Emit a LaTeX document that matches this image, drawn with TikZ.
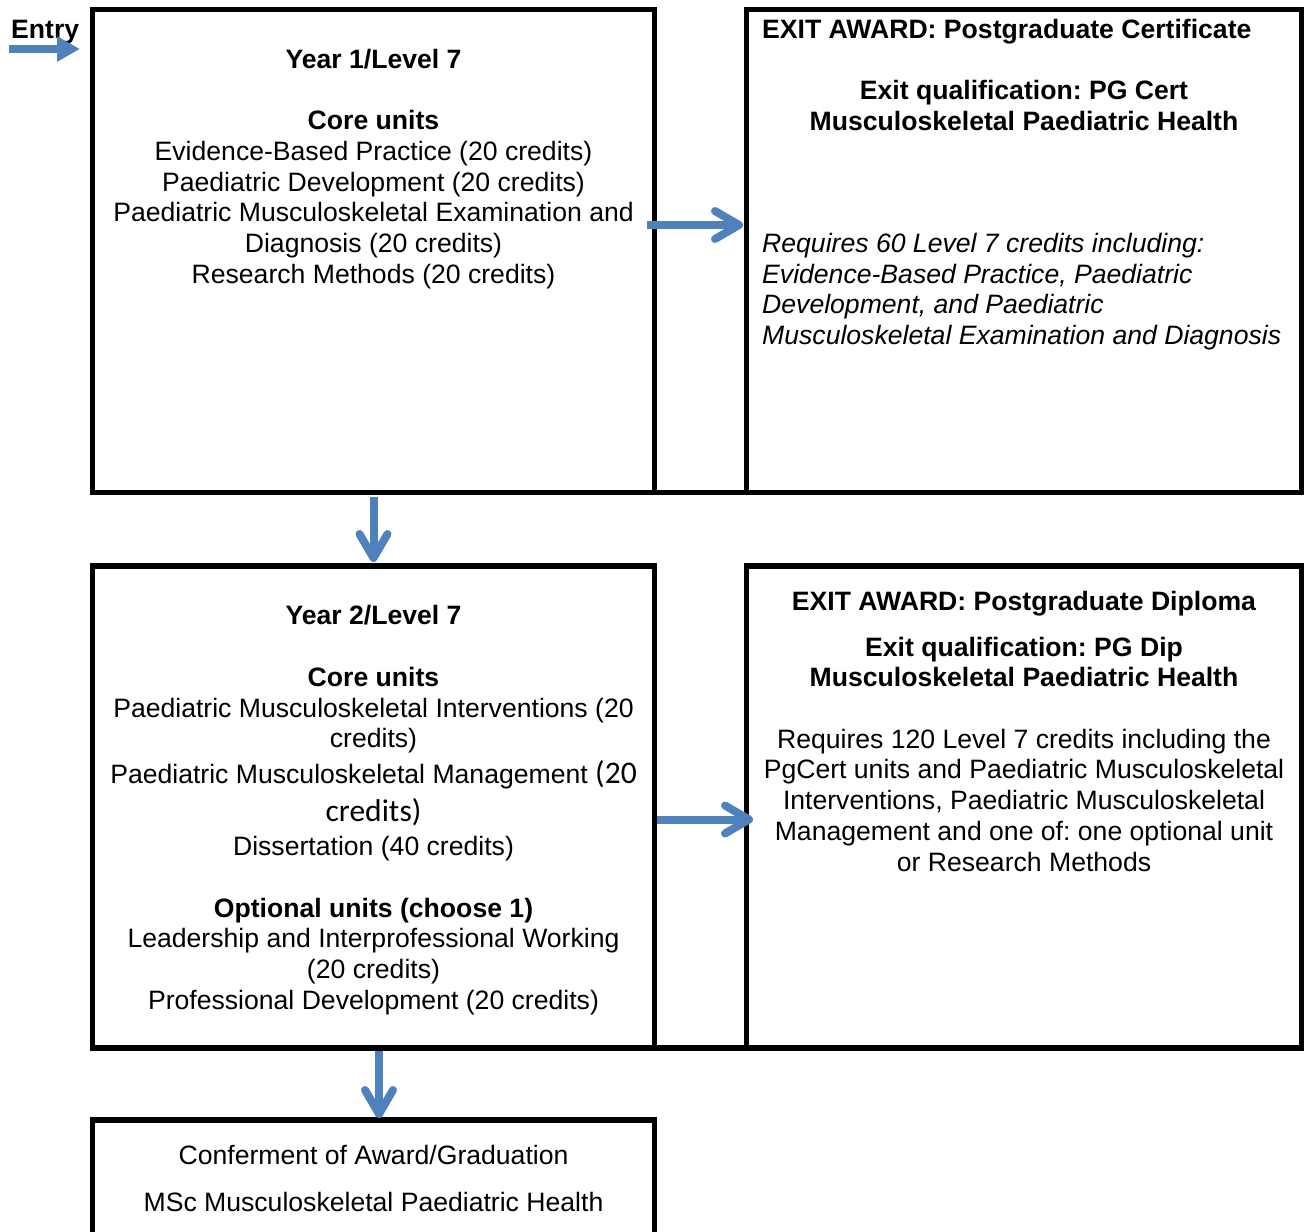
\documentclass[tikz,border=0pt]{standalone}
\usepackage{fontspec}
\setmainfont{Liberation Sans}
\newfontfamily\calibrifont{Carlito}
\usetikzlibrary{arrows.meta,positioning}
\definecolor{flowblue}{RGB}{79,129,189}
\frenchspacing

\tikzset{
  frame/.style={draw, line width=5.5pt, inner sep=0pt, outer sep=0pt},
  rowline/.style={line width=5.5pt},
  boxtext/.style={align=center, inner sep=0pt, font=\fontsize{26.6}{30.7}\selectfont},
  flow/.style={flowblue, line width=8pt, -{Straight Barb[length=24pt, width=28pt, round]}},
  entryflow/.style={flowblue, line width=8pt, -{Triangle[length=23pt, width=24pt]}}
}

\begin{document}
\begin{tikzpicture}[x=1pt, y=-1pt]
            \clip (0,0) rectangle (1308,1231);
            \useasboundingbox (0,0) rectangle (1308,1231);

            % Kasten
            \node[frame, minimum width=562pt, minimum height=483pt] (box1) at (373.5,251) {};
            \node[frame, minimum width=555pt, minimum height=483pt] (box2) at (1024,251) {};
            \node[frame, minimum width=562pt, minimum height=482pt] (box3) at (373.5,807) {};
            \node[frame, minimum width=555pt, minimum height=482pt] (box4) at (1024,807) {};
            \node[frame, minimum width=562pt, minimum height=160pt] (box5) at (373.5,1200) {};

            % Untere Linien
            \draw[rowline] (box1.south east) -- (box2.south west);
            \draw[rowline] (box3.south east) -- (box4.south west);

            % Jahr 1
            \node[boxtext, below=39.5pt of box1.north] (year1) {%
                \textbf{Year 1/Level 7}\\[30.7pt]
                \textbf{Core units}\\
                Evidence-Based Practice (20 credits)\\
                Paediatric Development (20 credits)\\
                Paediatric Musculoskeletal Examination and\\
                Diagnosis (20 credits)\\
                Research Methods (20 credits)};

            % Zertifikat
            \node[boxtext, anchor=north west, font=\bfseries\fontsize{26.6}{30.7}\selectfont]
                (award1) at ([xshift=15.5pt, yshift=-9.5pt]box2.north west) {EXIT AWARD: Postgraduate Certificate};
            \node[boxtext, below=71pt of box2.north, font=\bfseries\fontsize{26.6}{30.7}\selectfont] (qual1) {%
                Exit qualification: PG Cert\\
                Musculoskeletal Paediatric Health};
            \node[boxtext, anchor=north west, align=left, font=\itshape\fontsize{26.6}{30.7}\selectfont]
                (req1) at ([xshift=15.5pt, yshift=-223.5pt]box2.north west) {%
                Requires 60 Level 7 credits including:\\
                Evidence-Based Practice, Paediatric\\
                Development, and Paediatric\\
                Musculoskeletal Examination and Diagnosis};

            % Jahr 2
            \node[boxtext, below=39.5pt of box3.north] (year2) {%
                \textbf{Year 2/Level 7}\\[30.7pt]
                \textbf{Core units}\\
                Paediatric Musculoskeletal Interventions (20\\
                credits)\\[5pt]
                Paediatric Musculoskeletal Management {\calibrifont\fontsize{31.5}{30.7}\selectfont (20}\\[7pt]
                {\calibrifont\fontsize{31.5}{30.7}\selectfont credits)}\\[4pt]
                Dissertation (40 credits)\\[30.7pt]
                \textbf{Optional units (choose 1)}\\
                Leadership and Interprofessional Working\\
                (20 credits)\\
                Professional Development (20 credits)};

            % Diplom
            \node[boxtext, below=25pt of box4.north] (award2) {%
                \textbf{EXIT AWARD: Postgraduate Diploma}\\[15pt]
                \textbf{Exit qualification: PG Dip}\\
                \textbf{Musculoskeletal Paediatric Health}\\[30.7pt]
                Requires 120 Level 7 credits including the\\
                PgCert units and Paediatric Musculoskeletal\\
                Interventions, Paediatric Musculoskeletal\\
                Management and one of: one optional unit\\
                or Research Methods};

            % Abschluss
            \node[boxtext, below=25pt of box5.north] (grad) {%
                Conferment of Award/Graduation\\[16pt]
                MSc Musculoskeletal Paediatric Health};

            % Eingang
            \coordinate (entrystart) at (9,49);
            \coordinate (entryend) at (80,49);
            \node[boxtext, font=\bfseries\fontsize{26.6}{30.7}\selectfont, anchor=base west] (entry) at (11,39) {Entry};
            \draw[entryflow] (entrystart) -- (entryend);

            % Pfeile
            \draw[flow] ([xshift=-7.5pt, yshift=26pt]box1.east) -- ([xshift=-3.5pt, yshift=26pt]box2.west);
            \draw[flow] ([yshift=-4.5pt]box1.south) -- ([yshift=4pt]box3.north);
            \draw[flow] ([xshift=2.5pt, yshift=-12.5pt]box3.east) -- ([xshift=6.5pt, yshift=-12.5pt]box4.west);
            \draw[flow] ([xshift=5.5pt, yshift=-3pt]box3.south) -- ([xshift=5.5pt, yshift=2pt]box5.north);
        \end{tikzpicture}
\end{document}
